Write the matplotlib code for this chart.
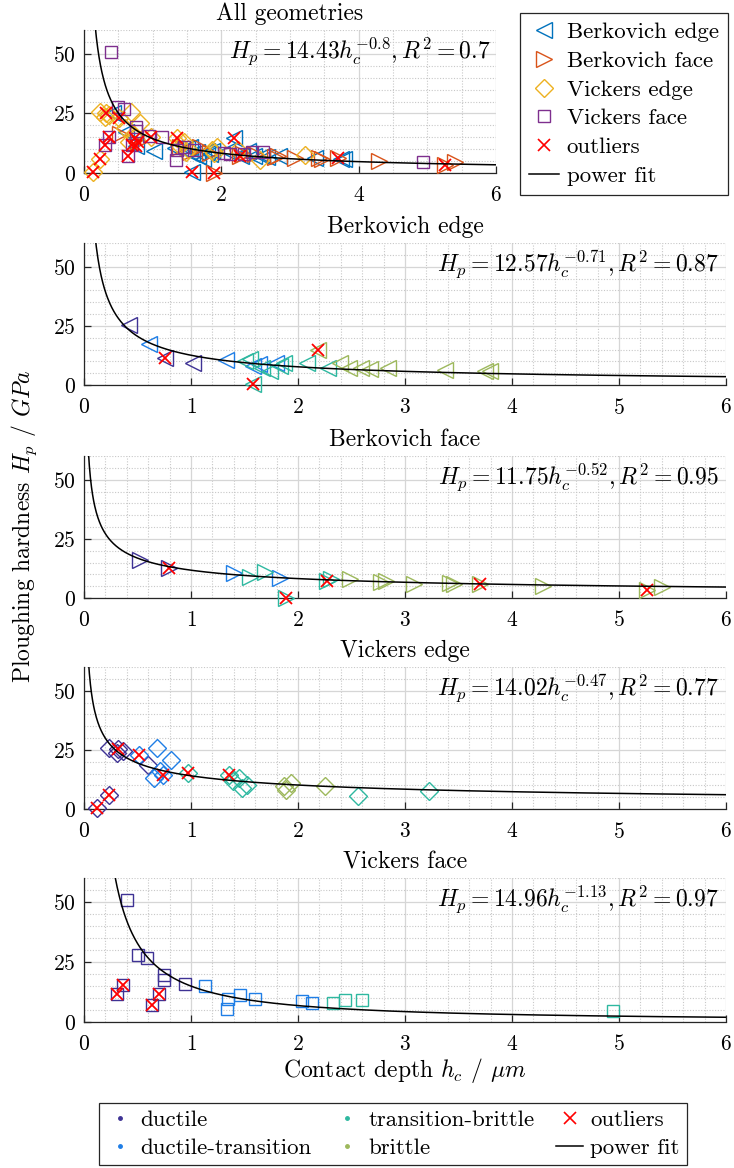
import numpy as np
import matplotlib
matplotlib.use("Agg")
import matplotlib.pyplot as plt
from matplotlib.lines import Line2D
from matplotlib.ticker import MultipleLocator

plt.rcParams['font.family'] = 'cmr10'
plt.rcParams['mathtext.fontset'] = 'cm'
plt.rcParams['axes.formatter.use_mathtext'] = True

# ---- data: contact depth h_c (um), ploughing hardness H_p (GPa),
# ---- class index (0 ductile .. 3 brittle), outlier flag
class_names = ['ductile', 'ductile-transition', 'transition-brittle', 'brittle']

# Berkovich edge
be_h = [0.42, 0.76, 1.02, 0.61, 1.33, 1.58, 1.64, 1.79,
        1.50, 1.55, 1.58, 1.66, 1.74, 1.83, 1.87, 2.08, 2.28,
        2.19, 2.39, 2.48, 2.59, 2.67, 2.84, 3.37, 3.75, 3.79]
be_H = [25.2, 11.4, 9.3, 17.2, 10.6, 7.9, 8.9, 9.3,
        10.3, 10.8, 0.3, 7.2, 5.8, 8.0, 9.3, 9.2, 7.2,
        14.6, 9.3, 7.2, 7.2, 6.8, 7.3, 6.5, 5.8, 5.9]
be_cls = [0, 0, 0, 1, 1, 1, 1, 1,
          2, 2, 2, 2, 2, 2, 2, 2, 2,
          3, 3, 3, 3, 3, 3, 3, 3, 3]
be_out = [0, 1, 0, 0, 0, 0, 0, 0,
          0, 0, 1, 0, 0, 0, 0, 0, 0,
          1, 0, 0, 0, 0, 0, 0, 0, 0]

# Berkovich face
bf_h = [0.52, 0.79, 1.40, 1.83, 1.55, 1.69, 1.89, 2.27, 2.31,
        2.49, 2.78, 2.82, 3.08, 3.42, 3.46, 3.70, 4.29, 5.26, 5.40]
bf_H = [16.2, 12.8, 10.7, 8.5, 8.9, 11.0, 0.2, 7.2, 8.1,
        7.9, 6.8, 7.3, 6.1, 6.2, 5.8, 6.1, 5.0, 3.5, 4.5]
bf_cls = [0, 0, 1, 1, 2, 2, 2, 2, 2,
          3, 3, 3, 3, 3, 3, 3, 3, 3, 3]
bf_out = [0, 1, 0, 0, 0, 0, 1, 1, 0,
          0, 0, 0, 0, 0, 0, 1, 0, 1, 0]

# Vickers edge
ve_h = [0.125, 0.23, 0.23, 0.31, 0.32, 0.36, 0.60,
        0.51, 0.68, 0.65, 0.71, 0.74, 0.81,
        0.97, 1.355, 1.39, 1.45, 1.48, 1.52, 2.56, 3.22,
        1.87, 1.89, 1.93, 2.25]
ve_H = [0.4, 6.0, 25.8, 23.6, 25.3, 24.5, 18.7,
        23.0, 25.8, 13.1, 15.9, 14.5, 20.8,
        15.2, 14.5, 11.7, 13.1, 8.8, 10.2, 5.6, 7.4,
        9.6, 8.2, 11.0, 9.6]
ve_cls = [0, 0, 0, 0, 0, 0, 0,
          1, 1, 1, 1, 1, 1,
          2, 2, 2, 2, 2, 2, 2, 2,
          3, 3, 3, 3]
ve_out = [1, 1, 0, 0, 1, 0, 0,
          1, 0, 0, 0, 1, 0,
          1, 1, 0, 0, 0, 0, 0, 0,
          0, 0, 0, 0]

# Vickers face
vf_h = [0.40, 0.50, 0.586, 0.75, 0.75, 0.94, 0.305, 0.36, 0.64, 0.70,
        1.13, 1.35, 1.34, 1.46, 1.60, 2.04, 2.13,
        2.33, 2.44, 2.60, 4.94]
vf_H = [50.7, 27.8, 26.8, 19.5, 17.7, 15.7, 11.8, 15.3, 7.0, 11.8,
        14.9, 9.7, 5.3, 11.1, 9.7, 8.6, 8.1,
        7.9, 9.0, 9.0, 4.6]
vf_cls = [0, 0, 0, 0, 0, 0, 0, 0, 0, 0,
          1, 1, 1, 1, 1, 1, 1,
          2, 2, 2, 2]
vf_out = [0, 0, 0, 0, 0, 0, 1, 1, 1, 1,
          0, 0, 0, 0, 0, 0, 0,
          0, 0, 0, 0]

# power-law fits H_p = a * h_c^b
fit_labels = ['All geometries', 'Berkovich edge', 'Berkovich face', 'Vickers edge', 'Vickers face']
fit_a = [14.43, 12.57, 11.75, 14.02, 14.96]
fit_b = [-0.8, -0.71, -0.52, -0.47, -1.13]
fit_r2 = [0.7, 0.87, 0.95, 0.77, 0.97]

# ---- styling
geom_names = ['Berkovich edge', 'Berkovich face', 'Vickers edge', 'Vickers face']
geom_markers = ['<', '>', 'D', 's']
geom_ms = [12, 12, 9.5, 9]
geom_colors = ['#0072BD', '#D95319', '#EDB120', '#7E2F8E']
class_colors = ['#3E3294', '#1F7EE6', '#2EB8A0', '#9DB85C']
out_color = '#FF0000'
spine_c = '#262626'

geoms = [(be_h, be_H, be_cls, be_out), (bf_h, bf_H, bf_cls, bf_out),
         (ve_h, ve_H, ve_cls, ve_out), (vf_h, vf_H, vf_cls, vf_out)]

fig = plt.figure(figsize=(7.34, 11.68), dpi=100)
W, H = 734.0, 1168.0


def axes_px(left, top, right, bottom):
    return fig.add_axes([left / W, 1 - bottom / H, (right - left) / W, (bottom - top) / H])


ax_all = axes_px(84, 30, 496, 173)
ax_list = [ax_all,
           axes_px(84, 243, 726, 385),
           axes_px(84, 456, 726, 598),
           axes_px(84, 667, 726, 809),
           axes_px(84, 878, 726, 1022)]


def style_axes(ax, xmajor, xminor):
    ax.set_xlim(0, 6)
    ax.set_ylim(0, 60)
    ax.xaxis.set_major_locator(MultipleLocator(xmajor))
    ax.xaxis.set_minor_locator(MultipleLocator(xminor))
    ax.yaxis.set_major_locator(MultipleLocator(25))
    ax.yaxis.set_minor_locator(MultipleLocator(5))
    ax.grid(True, which='major', color='#D6D6D6', lw=0.9, ls='-')
    ax.grid(True, which='minor', color='#C8C8C8', lw=0.8, ls=(0, (1, 1.5)))
    ax.set_axisbelow(True)
    for s in ['top', 'right']:
        ax.spines[s].set_visible(False)
    for s in ['left', 'bottom']:
        ax.spines[s].set_color(spine_c)
        ax.spines[s].set_linewidth(0.9)
    ax.tick_params(which='major', direction='in', length=5, width=0.9,
                   color=spine_c, labelsize=15.5, pad=6)
    ax.tick_params(axis='x', which='major', pad=9)
    ax.tick_params(which='minor', length=0)


hh = np.linspace(0.01, 6, 1200)

for i, ax in enumerate(ax_list):
    if i == 0:
        style_axes(ax, 2, 0.5)
    else:
        style_axes(ax, 1, 0.2)
    ax.set_title(fit_labels[i], fontsize=17, pad=7)
    txt = r'$H_p = %s h_c^{%s}, R^2 = %s$' % (f'{fit_a[i]:g}', f'{fit_b[i]:g}', f'{fit_r2[i]:g}')
    ax.text(0.988, 0.965, txt, transform=ax.transAxes, ha='right', va='top', fontsize=17)

# overview panel: all geometries coloured by indenter
for g, (h, Hp, c, o) in enumerate(geoms):
    ax_all.plot(h, Hp, ls='none', marker=geom_markers[g], ms=geom_ms[g], mfc='none',
                mec=geom_colors[g], mew=1.0, clip_on=False, zorder=3)
for g, (h, Hp, c, o) in enumerate(geoms):
    hx = [x for x, f in zip(h, o) if f]
    Hx = [y for y, f in zip(Hp, o) if f]
    ax_all.plot(hx, Hx, ls='none', marker='x', ms=9, mec=out_color, mew=1.3,
                clip_on=False, zorder=4)
ax_all.plot(hh, fit_a[0] * hh ** fit_b[0], color='k', lw=1.1, zorder=5)

# one panel per geometry coloured by fracture class
for g, (h, Hp, c, o) in enumerate(geoms):
    ax = ax_list[g + 1]
    for k in range(4):
        hk = [x for x, cc in zip(h, c) if cc == k]
        Hk = [y for y, cc in zip(Hp, c) if cc == k]
        ax.plot(hk, Hk, ls='none', marker=geom_markers[g], ms=geom_ms[g], mfc='none',
                mec=class_colors[k], mew=1.0, clip_on=False, zorder=3)
    hx = [x for x, f in zip(h, o) if f]
    Hx = [y for y, f in zip(Hp, o) if f]
    ax.plot(hx, Hx, ls='none', marker='x', ms=9, mec=out_color, mew=1.3,
            clip_on=False, zorder=4)
    ax.plot(hh, fit_a[g + 1] * hh ** fit_b[g + 1], color='k', lw=1.1, zorder=5)

ax_list[-1].set_xlabel(r'Contact depth $h_c$ / $\mu m$', fontsize=17, labelpad=1)
fig.text(24 / W, 1 - 526 / H, r'Ploughing hardness $H_p$ / $GPa$', rotation=90,
         ha='center', va='center', fontsize=17)

# legend: indenter geometries
leg_ms = [11, 11, 9, 8]
h1 = [Line2D([], [], ls='none', marker=geom_markers[g], ms=leg_ms[g], mfc='none',
             mec=geom_colors[g], mew=1.0) for g in range(4)]
h1.append(Line2D([], [], ls='none', marker='x', ms=8, mec=out_color, mew=1.2))
h1.append(Line2D([], [], color='k', lw=1.1))
l1 = fig.legend(h1, geom_names + ['outliers', 'power fit'], loc='upper right',
                bbox_to_anchor=(728 / W, 1 - 13 / H), fontsize=16.5, frameon=True,
                fancybox=False, edgecolor=spine_c, framealpha=1, handlelength=1.3,
                handletextpad=0.35, labelspacing=0.38, borderpad=0.4, borderaxespad=0)
l1.get_frame().set_linewidth(0.9)

# legend: fracture classes
h2 = [Line2D([], [], ls='none', marker='o', ms=2.5, mfc=class_colors[k], mec=class_colors[k])
      for k in range(4)]
h2.append(Line2D([], [], ls='none', marker='x', ms=8, mec=out_color, mew=1.2))
h2.append(Line2D([], [], color='k', lw=1.1))
l2 = fig.legend(h2, class_names + ['outliers', 'power fit'], loc='center', ncol=3,
                bbox_to_anchor=(393 / W, 1 - 1134 / H), fontsize=16.5, frameon=True,
                fancybox=False, edgecolor=spine_c, framealpha=1, handlelength=1.2,
                handletextpad=0.3, labelspacing=0.37, columnspacing=0.95, borderpad=0.3)
l2.get_frame().set_linewidth(0.9)

fig.savefig('out.png', dpi=100)
